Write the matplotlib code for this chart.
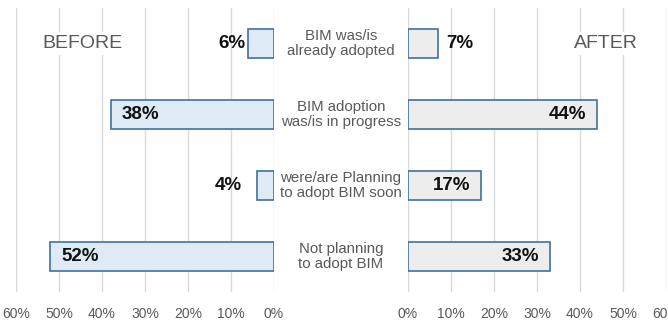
import matplotlib.pyplot as plt

categories = [
    "BIM was/is\nalready adopted",
    "BIM adoption\nwas/is in progress",
    "were/are Planning\nto adopt BIM soon",
    "Not planning\nto adopt BIM",
]
before = [6, 38, 4, 52]
after = [7, 44, 17, 33]
# True -> label sits inside the bar end, False -> just outside it
before_inside = [False, True, False, True]
after_inside = [False, True, True, True]
ticks = [0, 10, 20, 30, 40, 50, 60]

plt.rcParams['font.family'] = ['Liberation Sans', 'DejaVu Sans']

W, H = 668, 324
fig = plt.figure(figsize=(W / 100, H / 100), dpi=100)

bottom = 1 - 292 / H
top = 1 - 8 / H
ax_l = fig.add_axes([16 / W, bottom, 258 / W, top - bottom])
ax_r = fig.add_axes([408 / W, bottom, 258 / W, top - bottom])

text_gray = '#595959'
grid_gray = '#d9d9d9'
edge = '#41719c'

ypos = list(range(len(categories)))

for ax in (ax_l, ax_r):
    ax.set_ylim(len(categories) - 0.5, -0.5)
    ax.set_xticks(ticks)
    ax.set_xticklabels([f"{t}%" for t in ticks])
    ax.tick_params(axis='x', length=0, labelsize=10, labelcolor=text_gray, pad=11)
    ax.set_yticks([])
    for s in ax.spines.values():
        s.set_visible(False)
    ax.grid(axis='x', color=grid_gray, lw=1)
    ax.set_axisbelow(True)

ax_l.set_xlim(60, 0)
ax_r.set_xlim(0, 60)

ax_l.barh(ypos, before, height=0.41, color='#deebf7', edgecolor=edge, lw=1.2, zorder=3)
ax_r.barh(ypos, after, height=0.41, color='#ededed', edgecolor=edge, lw=1.2, zorder=3)

lab = dict(va='center', fontsize=13.5, fontweight='bold', color='#111111', zorder=4)

for y, v, inside in zip(ypos, before, before_inside):
    if inside:
        ax_l.annotate(f"{v}%", (v, y), xytext=(8, 0), textcoords='offset points',
                      ha='left', **lab)
    else:
        ax_l.annotate(f"{v}%", (v, y), xytext=(-2 if v > 5 else -11, 0),
                      textcoords='offset points', ha='right', **lab)

for y, v, inside in zip(ypos, after, after_inside):
    if inside:
        ax_r.annotate(f"{v}%", (v, y), xytext=(-8, 0), textcoords='offset points',
                      ha='right', **lab)
    else:
        ax_r.annotate(f"{v}%", (v, y), xytext=(6, 0), textcoords='offset points',
                      ha='left', **lab)

# category names in the gap between the two halves
for y, name in zip(ypos, categories):
    y_disp = ax_l.transData.transform((0, y))[1]
    y_fig = fig.transFigure.inverted().transform((0, y_disp))[1]
    fig.text(341 / W, y_fig, name, ha='center', va='center', fontsize=10.8,
             color=text_gray, linespacing=1.05)

ax_l.text(44.6, 0.0, "BEFORE", ha='center', va='center', fontsize=14,
          color=text_gray, zorder=2,
          bbox=dict(facecolor='white', edgecolor='none', pad=2))
ax_r.text(46.0, 0.0, "AFTER", ha='center', va='center', fontsize=14,
          color=text_gray, zorder=2,
          bbox=dict(facecolor='white', edgecolor='none', pad=2))

fig.savefig('out.png', dpi=100)
